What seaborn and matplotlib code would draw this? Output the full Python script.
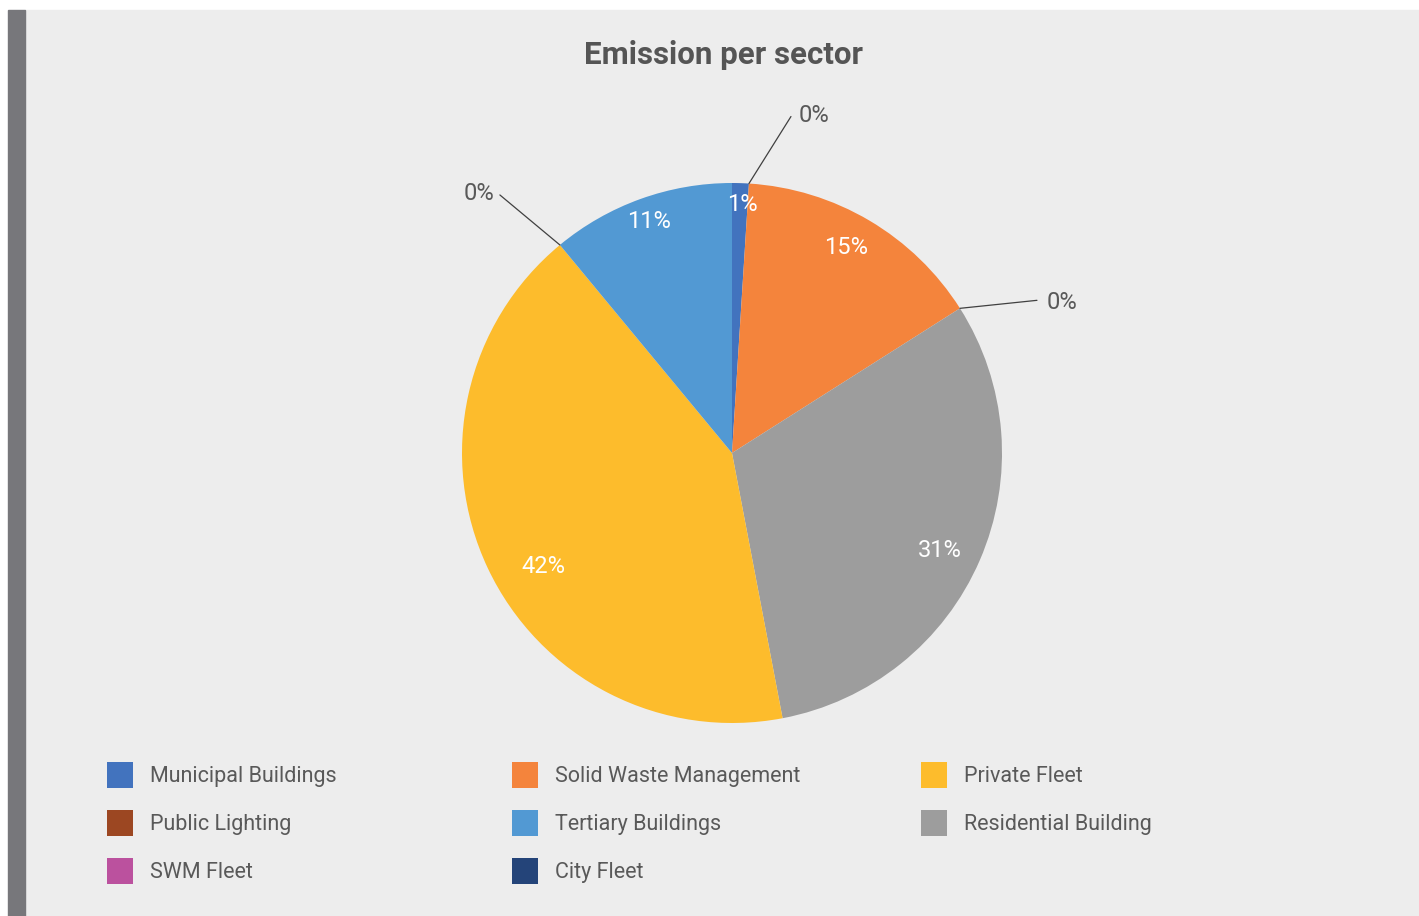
import numpy as np
import seaborn as sns
import matplotlib.pyplot as plt
from matplotlib.patches import Rectangle

# slices, clockwise from 12 o'clock
sectors = ['Municipal Buildings', 'Public Lighting', 'Solid Waste Management', 'SWM Fleet',
           'Residential Building', 'Private Fleet', 'City Fleet', 'Tertiary Buildings']
shares = [1, 0, 15, 0, 31, 42, 0, 11]
colors = ['#4273BE', '#9C4722', '#F4843C', '#BB519E',
          '#9D9D9D', '#FDBC2C', '#244479', '#5299D3']

# legend columns (Excel order)
legend_cols = [
    ['Municipal Buildings', 'Public Lighting', 'SWM Fleet'],
    ['Solid Waste Management', 'Tertiary Buildings', 'City Fleet'],
    ['Private Fleet', 'Residential Building'],
]

sns.set_style('white')
plt.rcParams['font.family'] = ['Roboto', 'DejaVu Sans']

W, H = 1419, 916
fig = plt.figure(figsize=(W / 100, H / 100), dpi=100)
fig.patch.set_facecolor('white')
fig.add_artist(Rectangle((25 / W, 0), 1, (H - 10) / H, transform=fig.transFigure,
                         color='#EDEDED', zorder=0))
fig.add_artist(Rectangle((8 / W, 0), 17 / W, (H - 10) / H, transform=fig.transFigure,
                         color='#77777B', zorder=0))

cx, cy, half = 732, 453, 300
ax = fig.add_axes([(cx - half) / W, (H - cy - half) / H, 2 * half / W, 2 * half / H])
R = 0.9
wedges, _ = ax.pie(shares, colors=colors, startangle=90, counterclock=False,
                   radius=R, wedgeprops=dict(linewidth=0))
ax.set_xlim(-1, 1)
ax.set_ylim(-1, 1)
ax.axis('off')

# inside labels: (fraction of radius, angle nudge in degrees)
inner = {0: (0.92, -0.5), 2: (0.87, 1.5), 4: (0.85, -1.7), 5: (0.815, 6), 7: (0.91, 0)}
# zero labels: (leader end px, text px, ha)
outer = {1: ((42, 67), (50, 68), 'left'),
         3: ((77, 8), (87, 6), 'left'),
         6: ((-60, 50), (-66, 51), 'right')}
px = 1 / half
for i, w in enumerate(wedges):
    if shares[i] > 0:
        d, nudge = inner[i]
        mid = np.deg2rad((w.theta1 + w.theta2) / 2 + nudge)
        ax.text(d * R * np.cos(mid), d * R * np.sin(mid), f'{shares[i]}%', color='white',
                fontsize=17, ha='center', va='center')
    else:
        a = np.deg2rad(w.theta1)
        bx, by = R * np.cos(a), R * np.sin(a)
        (lx, ly), (tx, ty), ha = outer[i]
        ax.plot([bx, bx + lx * px], [by, by + ly * px], color='#404040', lw=0.9,
                clip_on=False)
        ax.text(bx + tx * px, by + ty * px, f'{shares[i]}%', color='#595959',
                fontsize=17, ha=ha, va='center')

fig.text(724 / W, 1 - 55 / H, 'Emission per sector', ha='center', va='center',
         fontsize=22.5, fontweight='bold', color='#555555')

handle_of = dict(zip(sectors, wedges))
col_x = [107, 512, 921]
for x0, names in zip(col_x, legend_cols):
    fig.legend([handle_of[n] for n in names], names, loc='upper left',
               bbox_to_anchor=(x0 / W, 1 - 762 / H), frameon=False,
               labelcolor='#595959', handlelength=1.2, handleheight=1.45,
               handletextpad=0.8, labelspacing=1.05, borderaxespad=0, borderpad=0,
               prop=dict(family='Roboto', weight='normal', size=15.5))

fig.savefig('out.png', dpi=100, facecolor=fig.get_facecolor())
